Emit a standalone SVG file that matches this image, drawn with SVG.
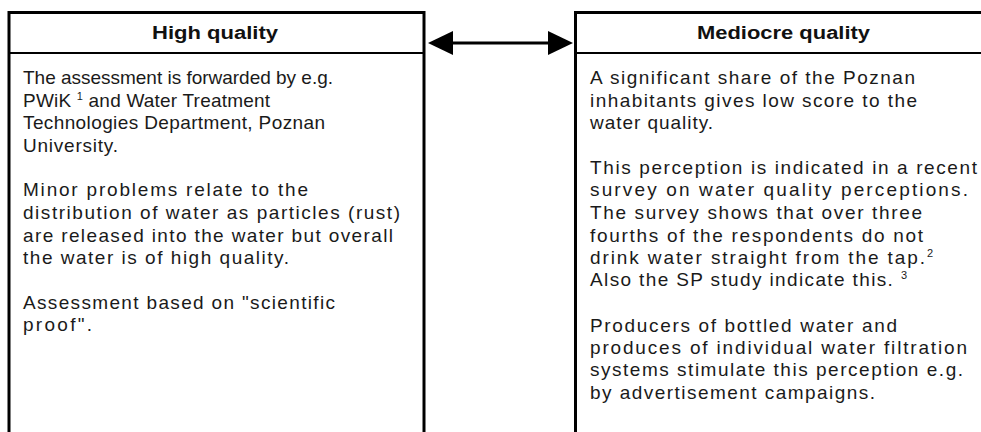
<svg xmlns="http://www.w3.org/2000/svg" width="981" height="432" viewBox="0 0 981 432">
<style>
.box{fill:#fff;stroke:#000;stroke-width:3}
.sep{stroke:#000;stroke-width:2}
.hdr{font-family:"Liberation Sans",Arial,sans-serif;font-weight:bold;font-size:18px;fill:#111}
.body text{font-family:"Liberation Sans",Arial,sans-serif;font-size:19px;fill:#1a1a1a}
.sup{font-size:11px}
.conn{stroke:#000;stroke-width:3;fill:none}
</style>
<defs>
<marker id="ah" markerUnits="userSpaceOnUse" markerWidth="25" markerHeight="24" refX="0" refY="12" orient="auto-start-reverse" viewBox="0 0 25 24">
<path d="M0,0 L25,12 L0,24 z" fill="#000"/>
</marker>
</defs>
<rect width="981" height="432" fill="#fff"/>
<g id="high">
<rect class="box" x="9" y="12.5" width="415" height="430"/>
<line class="sep" x1="9" y1="53" x2="424" y2="53"/>
<text class="hdr" x="152" y="39" textLength="126" lengthAdjust="spacingAndGlyphs">High quality</text>
<g class="body">
<text x="23" y="84" textLength="310">The assessment is forwarded by e.g.</text>
<text x="23" y="106.5" textLength="247">PWiK <tspan class="sup" dy="-7">1</tspan><tspan dy="7"> and Water Treatment</tspan></text>
<text x="23" y="129" textLength="302">Technologies Department, Poznan</text>
<text x="23" y="151.5" textLength="95">University.</text>
<text x="23" y="196" textLength="285">Minor problems relate to the</text>
<text x="23" y="219" textLength="377">distribution of water as particles (rust)</text>
<text x="23" y="241.5" textLength="370">are released into the water but overall</text>
<text x="23" y="264" textLength="266">the water is of high quality.</text>
<text x="23" y="309" textLength="312">Assessment based on "scientific</text>
<text x="23" y="331" textLength="69">proof".</text>
</g>
</g>
<g id="mediocre">
<rect class="box" x="575.5" y="12.5" width="420" height="430"/>
<line class="sep" x1="575" y1="53" x2="981" y2="53"/>
<text class="hdr" x="697" y="39" textLength="173" lengthAdjust="spacingAndGlyphs">Mediocre quality</text>
<g class="body">
<text x="590" y="84" textLength="325">A significant share of the Poznan</text>
<text x="590" y="106.5" textLength="327">inhabitants gives low score to the</text>
<text x="590" y="129" textLength="123">water quality.</text>
<text x="590" y="174" textLength="387">This perception is indicated in a recent</text>
<text x="590" y="196" textLength="378">survey on water quality perceptions.</text>
<text x="590" y="219" textLength="332">The survey shows that over three</text>
<text x="590" y="241.5" textLength="333">fourths of the respondents do not</text>
<text x="590" y="264" textLength="343">drink water straight from the tap.<tspan class="sup" dy="-7">2</tspan></text>
<text x="590" y="286" textLength="317">Also the SP study indicate this. <tspan class="sup" dy="-7">3</tspan></text>
<text x="590" y="332" textLength="307">Producers of bottled water and</text>
<text x="590" y="354" textLength="377">produces of individual water filtration</text>
<text x="590" y="376" textLength="373">systems stimulate this perception e.g.</text>
<text x="590" y="399" textLength="285">by advertisement campaigns.</text>
</g>
</g>
<g id="connectors">
<line class="conn" x1="453" y1="43" x2="548" y2="43" marker-start="url(#ah)" marker-end="url(#ah)"/>
</g>
</svg>
